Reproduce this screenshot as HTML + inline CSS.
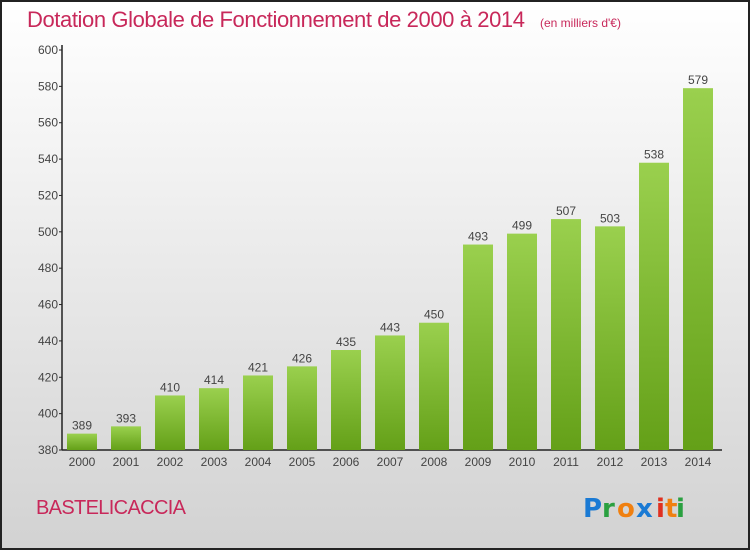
<!DOCTYPE html>
<html><head><meta charset="utf-8"><style>
html,body{margin:0;padding:0}
body{width:750px;height:550px;overflow:hidden;font-family:"Liberation Sans",sans-serif}
#wrap{position:absolute;left:0;top:0;width:746px;height:546px;border:2px solid #222;background:linear-gradient(#ffffff,#f2f2f2 30%,#d2d2d2)}
</style></head><body>
<div id="wrap">
<svg width="746" height="546" viewBox="2 2 746 546" id="svg">
<defs><linearGradient id="g" x1="0" y1="0" x2="0" y2="1"><stop offset="0" stop-color="#9ad04e"/><stop offset="1" stop-color="#64a018"/></linearGradient></defs>
<text x="27" y="27" font-size="22" fill="#c8285a" style="font-weight:300" textLength="498">Dotation Globale de Fonctionnement de 2000 à 2014</text>
<text x="540" y="27" font-size="12" fill="#c8285a">(en milliers d'€)</text>
<text x="36" y="514" font-size="20" fill="#c8285a" textLength="150">BASTELICACCIA</text>
<g font-size="26" font-weight="bold" font-family="'DejaVu Sans',sans-serif">
<text x="583" y="517" fill="#1a7ad4">P</text><text x="602" y="517" fill="#2aa040">r</text><text x="617" y="517" fill="#f08010">o</text><text x="636" y="517" fill="#1a7ad4">x</text><text x="656" y="517" fill="#e03020">i</text><text x="665" y="517" fill="#f08010">t</text><text x="676" y="517" fill="#2aa040">i</text>
</g>
<g id="axes"></g><g id="bars"></g>
</svg></div>
<script>
const years=["2000","2001","2002","2003","2004","2005","2006","2007","2008","2009","2010","2011","2012","2013","2014"];
const values=[389,393,410,414,421,426,435,443,450,493,499,507,503,538,579];
const yTicks=[380,400,420,440,460,480,500,520,540,560,580,600];
const NS="http://www.w3.org/2000/svg";
const y0=450,y1=50,vmin=380,vmax=600,x0=62,step=44,first=82,bw=30;
const Y=v=>y0-(v-vmin)/(vmax-vmin)*(y0-y1);
const X=i=>first+i*step;
function mk(t,a,p){const e=document.createElementNS(NS,t);for(const k in a)e.setAttribute(k,a[k]);p.appendChild(e);return e;}
const ax=document.getElementById('axes'),bg=document.getElementById('bars');
const yl=mk('line',{x1:x0,y1:y1-5,x2:x0,y2:y0,stroke:'#222','stroke-width':1.5},ax);


const xl=mk('line',{x1:x0,y1:y0,x2:722,y2:y0,stroke:'#222','stroke-width':1.5},ax);


yTicks.forEach(v=>{
 mk('line',{x1:x0-3,y1:Y(v),x2:x0,y2:Y(v),stroke:'#222'},ax);
 const t=mk('text',{x:x0-4,y:Y(v)+4,'font-size':12,fill:'#444','text-anchor':'end'},ax);t.textContent=v;
 
 
});
values.forEach((v,i)=>{
 const r=mk('rect',{x:X(i)-bw/2,y:Y(v),width:bw,height:y0-Y(v),fill:'url(#g)'},bg);
 
 
 const l=mk('text',{x:X(i),y:Y(v)-4,'font-size':12,fill:'#444','text-anchor':'middle'},bg);l.textContent=v;
 
 
 const xt=mk('text',{x:X(i),y:y0+16,'font-size':12,fill:'#444','text-anchor':'middle'},bg);xt.textContent=years[i];
 
 
});
</script>
</body></html>
